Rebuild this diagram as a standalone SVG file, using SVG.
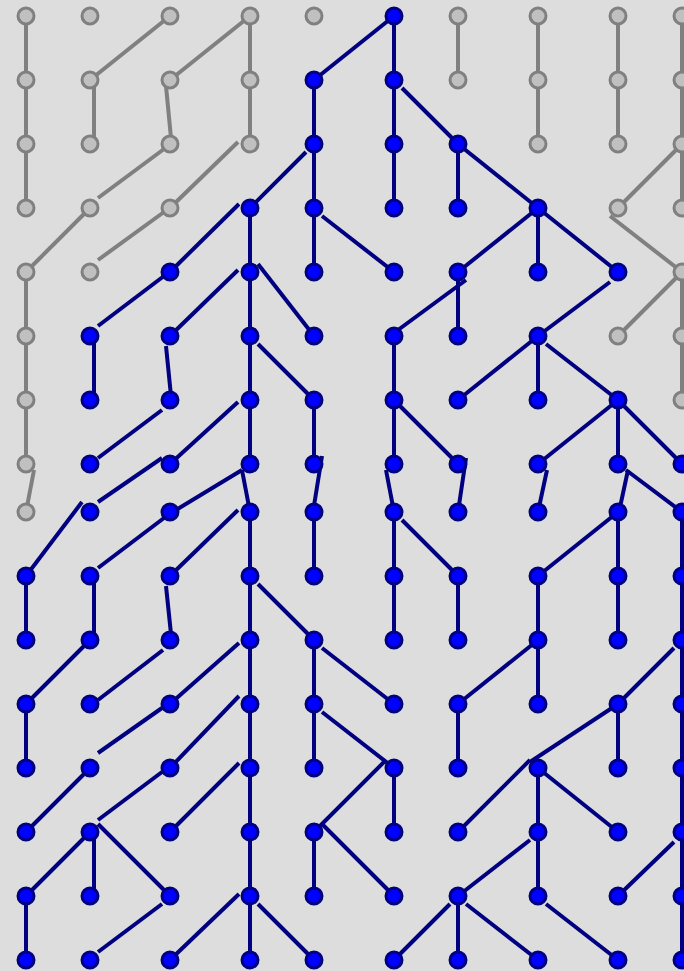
<svg xmlns="http://www.w3.org/2000/svg" width="684" height="971" viewBox="0 0 684 971">
<style>
.g{stroke:#808080;stroke-width:4;fill:none}
.b{stroke:#000080;stroke-width:4;fill:none}
.ng{fill:#c0c0c0;stroke:#808080;stroke-width:3}
.nb{fill:#0000ff;stroke:#000080;stroke-width:3}
</style>
<rect width="684" height="971" fill="#dddddd"/>
<g id="connectors">
<g class="g">
<line x1="26" y1="16" x2="26" y2="208"/>
<line x1="170" y1="16" x2="90" y2="80"/>
<line x1="94" y1="80" x2="94" y2="140"/>
<line x1="250" y1="16" x2="170" y2="80"/>
<line x1="166" y1="86" x2="171" y2="138"/>
<line x1="250" y1="16" x2="250" y2="144"/>
<line x1="164" y1="149" x2="98" y2="198"/>
<line x1="238" y1="142" x2="173" y2="205"/>
<line x1="84" y1="214" x2="26" y2="272"/>
<line x1="164" y1="212" x2="98" y2="260"/>
<line x1="26" y1="272" x2="26" y2="464"/>
<line x1="34" y1="470" x2="26" y2="512"/>
<line x1="458" y1="16" x2="458" y2="80"/>
<line x1="538" y1="16" x2="538" y2="144"/>
<line x1="618" y1="16" x2="618" y2="144"/>
<line x1="682" y1="16" x2="682" y2="208"/>
<line x1="682" y1="144" x2="618" y2="208"/>
<line x1="610" y1="216" x2="682" y2="272"/>
<line x1="682" y1="272" x2="618" y2="336"/>
<line x1="682" y1="272" x2="682" y2="400"/>
</g>
<g class="b">
<line x1="394" y1="16" x2="314" y2="80"/>
<line x1="394" y1="16" x2="394" y2="208"/>
<line x1="314" y1="80" x2="314" y2="144"/>
<line x1="402" y1="88" x2="458" y2="144"/>
<line x1="306" y1="152" x2="250" y2="208"/>
<line x1="314" y1="144" x2="314" y2="208"/>
<line x1="458" y1="144" x2="458" y2="208"/>
<line x1="458" y1="144" x2="538" y2="208"/>
<line x1="239" y1="204" x2="170" y2="272"/>
<line x1="250" y1="208" x2="250" y2="272"/>
<line x1="322" y1="216" x2="394" y2="272"/>
<line x1="314" y1="208" x2="314" y2="272"/>
<line x1="538" y1="208" x2="458" y2="272"/>
<line x1="538" y1="208" x2="538" y2="272"/>
<line x1="538" y1="208" x2="618" y2="272"/>
<line x1="164" y1="276" x2="98" y2="326"/>
<line x1="238" y1="270" x2="170" y2="336"/>
<line x1="250" y1="272" x2="250" y2="464"/>
<line x1="258" y1="264" x2="314" y2="336"/>
<line x1="466" y1="280" x2="398" y2="330"/>
<line x1="458" y1="272" x2="458" y2="336"/>
<line x1="610" y1="282" x2="538" y2="336"/>
<line x1="94" y1="336" x2="94" y2="398"/>
<line x1="166" y1="346" x2="171" y2="396"/>
<line x1="258" y1="344" x2="314" y2="400"/>
<line x1="394" y1="336" x2="394" y2="464"/>
<line x1="538" y1="336" x2="458" y2="400"/>
<line x1="538" y1="336" x2="538" y2="400"/>
<line x1="546" y1="344" x2="618" y2="400"/>
<line x1="162" y1="410" x2="98" y2="458"/>
<line x1="238" y1="402" x2="170" y2="464"/>
<line x1="314" y1="400" x2="314" y2="464"/>
<line x1="398" y1="404" x2="458" y2="464"/>
<line x1="618" y1="400" x2="538" y2="464"/>
<line x1="618" y1="400" x2="618" y2="464"/>
<line x1="618" y1="400" x2="682" y2="464"/>
<line x1="162" y1="458" x2="98" y2="502"/>
<line x1="242" y1="470" x2="176" y2="510"/>
<line x1="242" y1="470" x2="250" y2="512"/>
<line x1="322" y1="456" x2="313" y2="512"/>
<line x1="386" y1="470" x2="394" y2="512"/>
<line x1="466" y1="458" x2="458" y2="512"/>
<line x1="547" y1="470" x2="538" y2="512"/>
<line x1="628" y1="470" x2="619" y2="512"/>
<line x1="626" y1="470" x2="682" y2="512"/>
<line x1="82" y1="502" x2="26" y2="576"/>
<line x1="164" y1="518" x2="98" y2="568"/>
<line x1="238" y1="510" x2="170" y2="576"/>
<line x1="250" y1="512" x2="250" y2="640"/>
<line x1="314" y1="512" x2="314" y2="576"/>
<line x1="394" y1="512" x2="394" y2="640"/>
<line x1="402" y1="520" x2="458" y2="576"/>
<line x1="618" y1="512" x2="538" y2="576"/>
<line x1="618" y1="512" x2="618" y2="640"/>
<line x1="682" y1="512" x2="682" y2="960"/>
<line x1="26" y1="576" x2="26" y2="640"/>
<line x1="94" y1="576" x2="94" y2="637"/>
<line x1="166" y1="586" x2="171" y2="634"/>
<line x1="258" y1="584" x2="314" y2="640"/>
<line x1="458" y1="576" x2="458" y2="640"/>
<line x1="538" y1="576" x2="538" y2="704"/>
<line x1="84" y1="646" x2="26" y2="704"/>
<line x1="163" y1="650" x2="98" y2="700"/>
<line x1="239" y1="643" x2="170" y2="704"/>
<line x1="250" y1="640" x2="250" y2="704"/>
<line x1="314" y1="640" x2="314" y2="768"/>
<line x1="322" y1="648" x2="394" y2="704"/>
<line x1="538" y1="640" x2="458" y2="704"/>
<line x1="674" y1="648" x2="618" y2="704"/>
<line x1="26" y1="704" x2="26" y2="768"/>
<line x1="162" y1="708" x2="98" y2="753"/>
<line x1="239" y1="696" x2="170" y2="768"/>
<line x1="250" y1="704" x2="250" y2="960"/>
<line x1="322" y1="712" x2="394" y2="768"/>
<line x1="458" y1="704" x2="458" y2="768"/>
<line x1="618" y1="704" x2="530" y2="762"/>
<line x1="618" y1="704" x2="618" y2="768"/>
<line x1="90" y1="768" x2="26" y2="832"/>
<line x1="162" y1="772" x2="98" y2="820"/>
<line x1="239" y1="763" x2="170" y2="832"/>
<line x1="386" y1="760" x2="314" y2="832"/>
<line x1="394" y1="768" x2="394" y2="832"/>
<line x1="530" y1="760" x2="458" y2="832"/>
<line x1="538" y1="768" x2="538" y2="896"/>
<line x1="538" y1="768" x2="618" y2="832"/>
<line x1="90" y1="832" x2="26" y2="896"/>
<line x1="94" y1="832" x2="94" y2="893"/>
<line x1="98" y1="824" x2="170" y2="896"/>
<line x1="314" y1="832" x2="314" y2="896"/>
<line x1="322" y1="824" x2="394" y2="896"/>
<line x1="530" y1="840" x2="458" y2="896"/>
<line x1="674" y1="842" x2="618" y2="896"/>
<line x1="26" y1="896" x2="26" y2="960"/>
<line x1="162" y1="904" x2="98" y2="952"/>
<line x1="239" y1="894" x2="170" y2="960"/>
<line x1="258" y1="904" x2="314" y2="960"/>
<line x1="450" y1="904" x2="394" y2="960"/>
<line x1="458" y1="896" x2="458" y2="960"/>
<line x1="466" y1="904" x2="538" y2="960"/>
<line x1="546" y1="904" x2="618" y2="960"/>
</g>
</g>
<g id="nodes" class="ng">
<g id="n0-0"><circle cx="26" cy="16" r="8"/></g>
<g id="n0-1"><circle cx="90" cy="16" r="8"/></g>
<g id="n0-2"><circle cx="170" cy="16" r="8"/></g>
<g id="n0-3"><circle cx="250" cy="16" r="8"/></g>
<g id="n0-4"><circle cx="314" cy="16" r="8"/></g>
<g id="n0-6"><circle cx="458" cy="16" r="8"/></g>
<g id="n0-7"><circle cx="538" cy="16" r="8"/></g>
<g id="n0-8"><circle cx="618" cy="16" r="8"/></g>
<g id="n0-9"><circle cx="682" cy="16" r="8"/></g>
<g id="n1-0"><circle cx="26" cy="80" r="8"/></g>
<g id="n1-1"><circle cx="90" cy="80" r="8"/></g>
<g id="n1-2"><circle cx="170" cy="80" r="8"/></g>
<g id="n1-3"><circle cx="250" cy="80" r="8"/></g>
<g id="n1-6"><circle cx="458" cy="80" r="8"/></g>
<g id="n1-7"><circle cx="538" cy="80" r="8"/></g>
<g id="n1-8"><circle cx="618" cy="80" r="8"/></g>
<g id="n1-9"><circle cx="682" cy="80" r="8"/></g>
<g id="n2-0"><circle cx="26" cy="144" r="8"/></g>
<g id="n2-1"><circle cx="90" cy="144" r="8"/></g>
<g id="n2-2"><circle cx="170" cy="144" r="8"/></g>
<g id="n2-3"><circle cx="250" cy="144" r="8"/></g>
<g id="n2-7"><circle cx="538" cy="144" r="8"/></g>
<g id="n2-8"><circle cx="618" cy="144" r="8"/></g>
<g id="n2-9"><circle cx="682" cy="144" r="8"/></g>
<g id="n3-0"><circle cx="26" cy="208" r="8"/></g>
<g id="n3-1"><circle cx="90" cy="208" r="8"/></g>
<g id="n3-2"><circle cx="170" cy="208" r="8"/></g>
<g id="n3-8"><circle cx="618" cy="208" r="8"/></g>
<g id="n3-9"><circle cx="682" cy="208" r="8"/></g>
<g id="n4-0"><circle cx="26" cy="272" r="8"/></g>
<g id="n4-1"><circle cx="90" cy="272" r="8"/></g>
<g id="n4-9"><circle cx="682" cy="272" r="8"/></g>
<g id="n5-0"><circle cx="26" cy="336" r="8"/></g>
<g id="n5-8"><circle cx="618" cy="336" r="8"/></g>
<g id="n5-9"><circle cx="682" cy="336" r="8"/></g>
<g id="n6-0"><circle cx="26" cy="400" r="8"/></g>
<g id="n6-9"><circle cx="682" cy="400" r="8"/></g>
<g id="n7-0"><circle cx="26" cy="464" r="8"/></g>
<g id="n8-0"><circle cx="26" cy="512" r="8"/></g>
<g class="nb">
<g id="n0-5"><circle cx="394" cy="16" r="8"/></g>
<g id="n1-4"><circle cx="314" cy="80" r="8"/></g>
<g id="n1-5"><circle cx="394" cy="80" r="8"/></g>
<g id="n2-4"><circle cx="314" cy="144" r="8"/></g>
<g id="n2-5"><circle cx="394" cy="144" r="8"/></g>
<g id="n2-6"><circle cx="458" cy="144" r="8"/></g>
<g id="n3-3"><circle cx="250" cy="208" r="8"/></g>
<g id="n3-4"><circle cx="314" cy="208" r="8"/></g>
<g id="n3-5"><circle cx="394" cy="208" r="8"/></g>
<g id="n3-6"><circle cx="458" cy="208" r="8"/></g>
<g id="n3-7"><circle cx="538" cy="208" r="8"/></g>
<g id="n4-2"><circle cx="170" cy="272" r="8"/></g>
<g id="n4-3"><circle cx="250" cy="272" r="8"/></g>
<g id="n4-4"><circle cx="314" cy="272" r="8"/></g>
<g id="n4-5"><circle cx="394" cy="272" r="8"/></g>
<g id="n4-6"><circle cx="458" cy="272" r="8"/></g>
<g id="n4-7"><circle cx="538" cy="272" r="8"/></g>
<g id="n4-8"><circle cx="618" cy="272" r="8"/></g>
<g id="n5-1"><circle cx="90" cy="336" r="8"/></g>
<g id="n5-2"><circle cx="170" cy="336" r="8"/></g>
<g id="n5-3"><circle cx="250" cy="336" r="8"/></g>
<g id="n5-4"><circle cx="314" cy="336" r="8"/></g>
<g id="n5-5"><circle cx="394" cy="336" r="8"/></g>
<g id="n5-6"><circle cx="458" cy="336" r="8"/></g>
<g id="n5-7"><circle cx="538" cy="336" r="8"/></g>
<g id="n6-1"><circle cx="90" cy="400" r="8"/></g>
<g id="n6-2"><circle cx="170" cy="400" r="8"/></g>
<g id="n6-3"><circle cx="250" cy="400" r="8"/></g>
<g id="n6-4"><circle cx="314" cy="400" r="8"/></g>
<g id="n6-5"><circle cx="394" cy="400" r="8"/></g>
<g id="n6-6"><circle cx="458" cy="400" r="8"/></g>
<g id="n6-7"><circle cx="538" cy="400" r="8"/></g>
<g id="n6-8"><circle cx="618" cy="400" r="8"/></g>
<g id="n7-1"><circle cx="90" cy="464" r="8"/></g>
<g id="n7-2"><circle cx="170" cy="464" r="8"/></g>
<g id="n7-3"><circle cx="250" cy="464" r="8"/></g>
<g id="n7-4"><circle cx="314" cy="464" r="8"/></g>
<g id="n7-5"><circle cx="394" cy="464" r="8"/></g>
<g id="n7-6"><circle cx="458" cy="464" r="8"/></g>
<g id="n7-7"><circle cx="538" cy="464" r="8"/></g>
<g id="n7-8"><circle cx="618" cy="464" r="8"/></g>
<g id="n7-9"><circle cx="682" cy="464" r="8"/></g>
<g id="n8-1"><circle cx="90" cy="512" r="8"/></g>
<g id="n8-2"><circle cx="170" cy="512" r="8"/></g>
<g id="n8-3"><circle cx="250" cy="512" r="8"/></g>
<g id="n8-4"><circle cx="314" cy="512" r="8"/></g>
<g id="n8-5"><circle cx="394" cy="512" r="8"/></g>
<g id="n8-6"><circle cx="458" cy="512" r="8"/></g>
<g id="n8-7"><circle cx="538" cy="512" r="8"/></g>
<g id="n8-8"><circle cx="618" cy="512" r="8"/></g>
<g id="n8-9"><circle cx="682" cy="512" r="8"/></g>
<g id="n9-0"><circle cx="26" cy="576" r="8"/></g>
<g id="n9-1"><circle cx="90" cy="576" r="8"/></g>
<g id="n9-2"><circle cx="170" cy="576" r="8"/></g>
<g id="n9-3"><circle cx="250" cy="576" r="8"/></g>
<g id="n9-4"><circle cx="314" cy="576" r="8"/></g>
<g id="n9-5"><circle cx="394" cy="576" r="8"/></g>
<g id="n9-6"><circle cx="458" cy="576" r="8"/></g>
<g id="n9-7"><circle cx="538" cy="576" r="8"/></g>
<g id="n9-8"><circle cx="618" cy="576" r="8"/></g>
<g id="n9-9"><circle cx="682" cy="576" r="8"/></g>
<g id="n10-0"><circle cx="26" cy="640" r="8"/></g>
<g id="n10-1"><circle cx="90" cy="640" r="8"/></g>
<g id="n10-2"><circle cx="170" cy="640" r="8"/></g>
<g id="n10-3"><circle cx="250" cy="640" r="8"/></g>
<g id="n10-4"><circle cx="314" cy="640" r="8"/></g>
<g id="n10-5"><circle cx="394" cy="640" r="8"/></g>
<g id="n10-6"><circle cx="458" cy="640" r="8"/></g>
<g id="n10-7"><circle cx="538" cy="640" r="8"/></g>
<g id="n10-8"><circle cx="618" cy="640" r="8"/></g>
<g id="n10-9"><circle cx="682" cy="640" r="8"/></g>
<g id="n11-0"><circle cx="26" cy="704" r="8"/></g>
<g id="n11-1"><circle cx="90" cy="704" r="8"/></g>
<g id="n11-2"><circle cx="170" cy="704" r="8"/></g>
<g id="n11-3"><circle cx="250" cy="704" r="8"/></g>
<g id="n11-4"><circle cx="314" cy="704" r="8"/></g>
<g id="n11-5"><circle cx="394" cy="704" r="8"/></g>
<g id="n11-6"><circle cx="458" cy="704" r="8"/></g>
<g id="n11-7"><circle cx="538" cy="704" r="8"/></g>
<g id="n11-8"><circle cx="618" cy="704" r="8"/></g>
<g id="n11-9"><circle cx="682" cy="704" r="8"/></g>
<g id="n12-0"><circle cx="26" cy="768" r="8"/></g>
<g id="n12-1"><circle cx="90" cy="768" r="8"/></g>
<g id="n12-2"><circle cx="170" cy="768" r="8"/></g>
<g id="n12-3"><circle cx="250" cy="768" r="8"/></g>
<g id="n12-4"><circle cx="314" cy="768" r="8"/></g>
<g id="n12-5"><circle cx="394" cy="768" r="8"/></g>
<g id="n12-6"><circle cx="458" cy="768" r="8"/></g>
<g id="n12-7"><circle cx="538" cy="768" r="8"/></g>
<g id="n12-8"><circle cx="618" cy="768" r="8"/></g>
<g id="n12-9"><circle cx="682" cy="768" r="8"/></g>
<g id="n13-0"><circle cx="26" cy="832" r="8"/></g>
<g id="n13-1"><circle cx="90" cy="832" r="8"/></g>
<g id="n13-2"><circle cx="170" cy="832" r="8"/></g>
<g id="n13-3"><circle cx="250" cy="832" r="8"/></g>
<g id="n13-4"><circle cx="314" cy="832" r="8"/></g>
<g id="n13-5"><circle cx="394" cy="832" r="8"/></g>
<g id="n13-6"><circle cx="458" cy="832" r="8"/></g>
<g id="n13-7"><circle cx="538" cy="832" r="8"/></g>
<g id="n13-8"><circle cx="618" cy="832" r="8"/></g>
<g id="n13-9"><circle cx="682" cy="832" r="8"/></g>
<g id="n14-0"><circle cx="26" cy="896" r="8"/></g>
<g id="n14-1"><circle cx="90" cy="896" r="8"/></g>
<g id="n14-2"><circle cx="170" cy="896" r="8"/></g>
<g id="n14-3"><circle cx="250" cy="896" r="8"/></g>
<g id="n14-4"><circle cx="314" cy="896" r="8"/></g>
<g id="n14-5"><circle cx="394" cy="896" r="8"/></g>
<g id="n14-6"><circle cx="458" cy="896" r="8"/></g>
<g id="n14-7"><circle cx="538" cy="896" r="8"/></g>
<g id="n14-8"><circle cx="618" cy="896" r="8"/></g>
<g id="n14-9"><circle cx="682" cy="896" r="8"/></g>
<g id="n15-0"><circle cx="26" cy="960" r="8"/></g>
<g id="n15-1"><circle cx="90" cy="960" r="8"/></g>
<g id="n15-2"><circle cx="170" cy="960" r="8"/></g>
<g id="n15-3"><circle cx="250" cy="960" r="8"/></g>
<g id="n15-4"><circle cx="314" cy="960" r="8"/></g>
<g id="n15-5"><circle cx="394" cy="960" r="8"/></g>
<g id="n15-6"><circle cx="458" cy="960" r="8"/></g>
<g id="n15-7"><circle cx="538" cy="960" r="8"/></g>
<g id="n15-8"><circle cx="618" cy="960" r="8"/></g>
<g id="n15-9"><circle cx="682" cy="960" r="8"/></g>
</g>
</g>
</svg>
